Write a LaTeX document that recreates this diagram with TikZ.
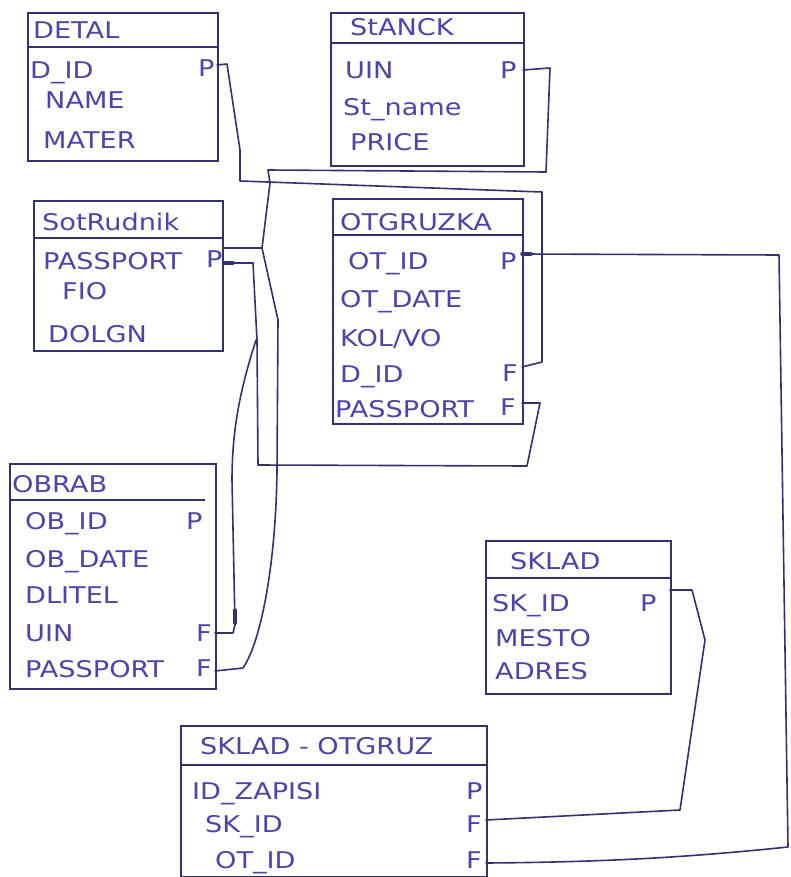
\documentclass[tikz,border=0pt]{standalone}
\usepackage{fontspec}
\setmainfont{DejaVu Sans}[FakeStretch=1.18]
\usetikzlibrary{calc}
\definecolor{ink}{HTML}{34316F}
\definecolor{pen}{HTML}{4E43A8}
\newcommand\myrow[4]{\node[txt] (#1) at (#2,#3) {#4};}
\begin{document}
\begin{tikzpicture}[x=1pt,y=-1pt,
  box/.style={draw=ink,line width=1.7pt,anchor=north west,inner sep=0pt},
  hline/.style={draw=ink,line width=1.6pt},
  txt/.style={anchor=base west,inner sep=0pt,text=pen,font=\fontsize{23}{23}\selectfont},
  conn/.style={draw=ink,line width=1.6pt,line join=round,line cap=round},
  blob/.style={draw=ink,line width=3.5pt,line cap=round}]
\fill[white] (0,0) rectangle (790,877);
\useasboundingbox (0,0) rectangle (790,877);

% ---------- DETAL ----------
\node[box,minimum width=190pt,minimum height=148pt] (detal) at (27,12) {};
\draw[hline] (27,47) -- (217,47);
\myrow{detal-t}{33}{39}{DETAL}
\myrow{detal-1}{30}{79}{D\_ID}
\myrow{detal-2}{45}{109}{NAME}
\myrow{detal-3}{43}{149}{MATER}
\myrow{detal-p}{198}{77}{P}
\coordinate (detal-pk) at (217,65);

% ---------- STANCK ----------
\node[box,minimum width=193pt,minimum height=153pt] (stanck) at (330,12) {};
\draw[hline] (330,43) -- (523,43);
\myrow{stanck-t}{350}{36}{StANCK}
\myrow{stanck-1}{345}{79}{UIN}
\myrow{stanck-2}{343}{116}{St\_name}
\myrow{stanck-3}{350}{151}{PRICE}
\myrow{stanck-p}{500}{79}{P}
\coordinate (stanck-pk) at (523,70);

% ---------- Sotrudnik ----------
\node[box,minimum width=189pt,minimum height=150pt] (sotr) at (33,200) {};
\draw[hline] (33,238) -- (222,238);
\myrow{sotr-t}{42}{231}{SotRudnik}
\myrow{sotr-1}{43}{269}{PASSPORT}
\myrow{sotr-2}{62}{299}{FIO}
\myrow{sotr-3}{48}{342}{DOLGN}
\myrow{sotr-p}{206}{267}{P}
\coordinate (sotr-pk1) at (223,248);
\coordinate (sotr-pk2) at (223,263);

% ---------- OTGRUZKA ----------
\node[box,minimum width=190pt,minimum height=225pt] (otgr) at (332,198) {};
\draw[hline] (332,235) -- (522,235);
\myrow{otgr-t}{340}{231}{OTGRUZKA}
\myrow{otgr-1}{348}{269}{OT\_ID}
\myrow{otgr-2}{340}{307}{OT\_DATE}
\myrow{otgr-3}{340}{346}{KOL/VO}
\myrow{otgr-4}{340}{382}{D\_ID}
\myrow{otgr-5}{335}{417}{PASSPORT}
\myrow{otgr-p}{500}{269}{P}
\myrow{otgr-f1}{502}{381}{F}
\myrow{otgr-f2}{500}{415}{F}
\coordinate (otgr-pk) at (522,254);
\coordinate (otgr-fk1) at (522,367);
\coordinate (otgr-fk2) at (522,403);

% ---------- OBRAB ----------
\node[box,minimum width=206pt,minimum height=225pt] (obrab) at (9,463) {};
\draw[hline] (9,500) -- (205,500);
\myrow{obrab-t}{12}{492}{OBRAB}
\myrow{obrab-1}{25}{529}{OB\_ID}
\myrow{obrab-2}{25}{567}{OB\_DATE}
\myrow{obrab-3}{25}{603}{DLITEL}
\myrow{obrab-4}{25}{641}{UIN}
\myrow{obrab-5}{25}{677}{PASSPORT}
\myrow{obrab-p}{186}{529}{P}
\myrow{obrab-f1}{196}{641}{F}
\myrow{obrab-f2}{196}{676}{F}
\coordinate (obrab-fk1) at (215,633);
\coordinate (obrab-fk2) at (215,671);

% ---------- SKLAD ----------
\node[box,minimum width=185pt,minimum height=153pt] (sklad) at (485,540) {};
\draw[hline] (485,578) -- (670,578);
\myrow{sklad-t}{510}{569}{SKLAD}
\myrow{sklad-1}{492}{611}{SK\_ID}
\myrow{sklad-2}{495}{646}{MESTO}
\myrow{sklad-3}{495}{679}{ADRES}
\myrow{sklad-p}{640}{611}{P}
\coordinate (sklad-pk) at (670,590);

% ---------- SKLAD - OTGRUZ ----------
\node[box,minimum width=306pt,minimum height=151pt] (so) at (180,725) {};
\draw[hline] (180,765) -- (486,765);
\myrow{so-t}{200}{754}{SKLAD - OTGRUZ}
\myrow{so-1}{192}{799}{ID\_ZAPISI}
\myrow{so-2}{205}{832}{SK\_ID}
\myrow{so-3}{215}{868}{OT\_ID}
\myrow{so-p}{466}{799}{P}
\myrow{so-f1}{466}{832}{F}
\myrow{so-f2}{466}{868}{F}
\coordinate (so-fk1) at (486,820);
\coordinate (so-fk2) at (486,863);

% ---------- connectors ----------
% DETAL.D_ID -> OTGRUZKA.D_ID
\draw[conn] (detal-pk) -- (227,64) -- (240,150) -- (240,181)
   -- (542,192) -- (542,362) -- (otgr-fk1);
% STANCK.UIN -> down to OBRAB.PASSPORT
\draw[conn] (stanck-pk) -- (550,68) -- (546,172) -- (268,170)
   -- (270,183) -- (262,248) -- (278,320) -- (277,470)
   .. controls (276,560) and (262,640) .. (243,668) -- (obrab-fk2);
% Sotrudnik.PASSPORT upper stroke
\draw[conn] (sotr-pk1) -- (262,248);
% Sotrudnik.PASSPORT lower stroke -> OTGRUZKA.PASSPORT
\draw[conn] (sotr-pk2) -- (253,263) -- (257,340) -- (258,465)
   -- (527,466) -- (540,403) -- (otgr-fk2);
\draw[blob] (224,263) -- (233,263);
% branch -> OBRAB.UIN
\draw[conn] (256,340) .. controls (240,390) and (232,430) .. (232,480) -- (235,625)
   -- (233,633) -- (obrab-fk1);
\draw[blob] (235,610) -- (235,623);
% OTGRUZKA.OT_ID -> SKLAD-OTGRUZ.OT_ID
\draw[conn] (otgr-pk) -- (779,255) -- (788,847)
   .. controls (700,856) and (620,862) .. (so-fk2);
\draw[blob] (522,254) -- (531,254);
% SKLAD.SK_ID -> SKLAD-OTGRUZ.SK_ID
\draw[conn] (sklad-pk) -- (692,590) -- (705,640) -- (680,810) -- (so-fk1);
\end{tikzpicture}
\end{document}
